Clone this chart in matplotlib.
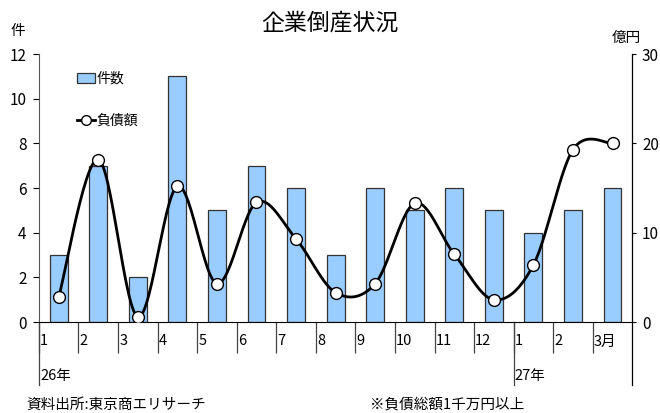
import numpy as np
import matplotlib
matplotlib.use('Agg')
import matplotlib.pyplot as plt
from matplotlib.lines import Line2D
from matplotlib.patches import Patch
import matplotlib.transforms as mtransforms

plt.rcParams['font.family'] = ['Noto Sans CJK JP', 'DejaVu Sans']

# データ (平成26年1月〜27年3月)
months = ['1', '2', '3', '4', '5', '6', '7', '8', '9', '10', '11', '12', '1', '2', '3月']
counts = [3, 7, 2, 11, 5, 7, 6, 3, 6, 5, 6, 5, 4, 5, 6]
debt = [2.8, 18.2, 0.6, 15.2, 4.3, 13.4, 9.3, 3.3, 4.3, 13.3, 7.6, 2.5, 6.4, 19.3, 20.0]
year_labels = {0: '26年', 12: '27年'}


def smooth(xs, ys, n=30):
    # Excelの平滑線に近いベジェ補間
    px = np.concatenate([[xs[0]], xs, [xs[-1]]])
    py = np.concatenate([[ys[0]], ys, [ys[-1]]])
    outx, outy = [], []
    t = np.linspace(0, 1, n)
    for i in range(1, len(px) - 2):
        p0 = np.array([px[i], py[i]])
        p3 = np.array([px[i + 1], py[i + 1]])
        p1 = p0 + (p3 - np.array([px[i - 1], py[i - 1]])) / 6
        p2 = p3 - (np.array([px[i + 2], py[i + 2]]) - p0) / 6
        b = (np.outer((1 - t) ** 3, p0) + np.outer(3 * (1 - t) ** 2 * t, p1)
             + np.outer(3 * (1 - t) * t ** 2, p2) + np.outer(t ** 3, p3))
        outx.extend(b[:, 0])
        outy.extend(b[:, 1])
    return outx, outy


fig = plt.figure(figsize=(6.6, 4.13), dpi=100)
ax = fig.add_axes([0.059, 0.22, 0.899, 0.649])
x = np.arange(len(counts))

ax.bar(x, counts, width=0.45, color='#99CCFF', edgecolor='#333333', linewidth=0.9, zorder=2)
ax.set_xlim(-0.5, len(counts) - 0.5)
ax.set_ylim(0, 12)
ax.set_yticks(range(0, 13, 2))
ax.tick_params(axis='y', direction='out', length=4, labelsize=11, width=0.8, pad=5)
ax.spines['top'].set_visible(False)
ax.spines['right'].set_visible(False)
ax.spines['left'].set_color('#555555')
ax.spines['bottom'].set_color('black')

# 月の境界の目盛り
bounds = np.arange(-0.5, len(counts) - 0.5, 1)
ax.set_xticks(bounds)
ax.set_xticklabels([''] * len(bounds))
ax.tick_params(axis='x', direction='out', length=22, width=0.9, color='#444444')

trans = mtransforms.blended_transform_factory(ax.transData, ax.transAxes)
for i, m in enumerate(months):
    ax.text(i - 0.47, -0.072, m, transform=trans, fontsize=10.5, ha='left', va='center')
for i, lab in year_labels.items():
    ax.add_line(Line2D([i - 0.5, i - 0.5], [0, -0.235], transform=trans,
                       color='#444444', lw=0.9, clip_on=False))
    ax.text(i - 0.47, -0.2, lab, transform=trans, fontsize=10.5, ha='left', va='center')

ax2 = ax.twinx()
ax2.set_ylim(0, 30)
ax2.set_yticks([0, 10, 20, 30])
ax2.tick_params(axis='y', direction='out', length=3, labelsize=11, width=0.8, pad=4)
for s in ['top', 'left', 'bottom', 'right']:
    ax2.spines[s].set_visible(False)
ax2.add_line(Line2D([1, 1], [-0.235, 1], transform=ax2.transAxes,
                    color='black', lw=0.9, clip_on=False))

sx, sy = smooth(x.astype(float), np.array(debt))
ax2.plot(sx, sy, color='black', lw=2.0, zorder=3)
ax2.plot(x, debt, 'o', color='black', markerfacecolor='white', markersize=8.5,
         markeredgewidth=1.0, zorder=4)

ax.text(-0.035, 1.085, '件', transform=ax.transAxes, fontsize=10.5, ha='center', va='center')
ax.text(0.99, 1.06, '億円', transform=ax.transAxes, fontsize=10.5, ha='center', va='center')
fig.text(0.5, 0.945, '企業倒産状況', fontsize=16.5, ha='center', va='center')

handles = [Patch(facecolor='#99CCFF', edgecolor='#333333', linewidth=0.9),
           Line2D([], [], color='black', lw=2.0, marker='o', markerfacecolor='white',
                  markeredgecolor='black', markersize=7)]
ax.legend(handles, ['件数', '負債額'], loc='upper left', bbox_to_anchor=(0.055, 0.955),
          frameon=False, fontsize=10, handlelength=1.3, handletextpad=0.1,
          labelspacing=2.0, borderaxespad=0)

fig.text(0.04, 0.02, '資料出所:東京商エリサーチ', fontsize=10.5, ha='left', va='center')
fig.text(0.56, 0.02, '※負債総額1千万円以上', fontsize=10.5, ha='left', va='center')

plt.savefig('out.png', dpi=100)
